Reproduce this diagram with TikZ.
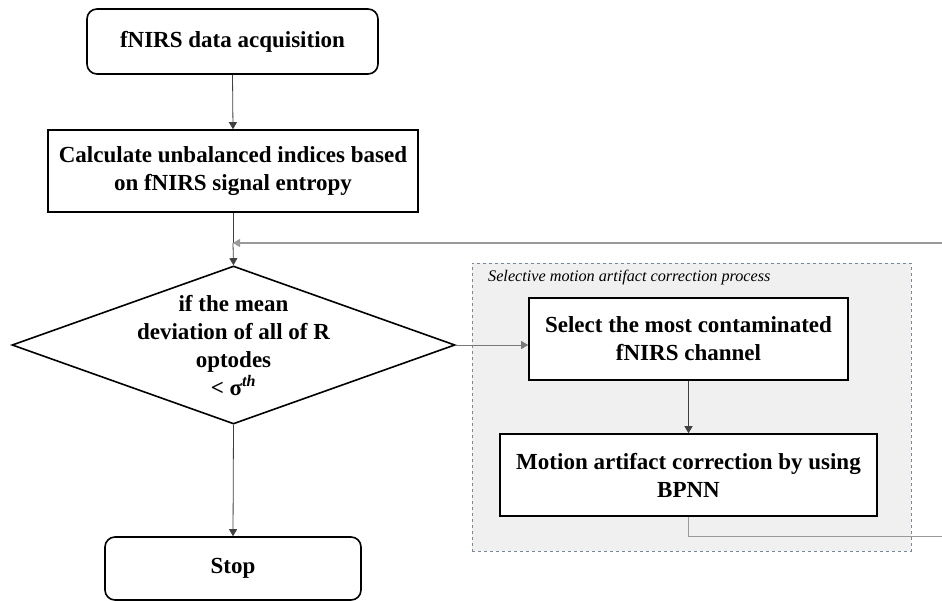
\documentclass[tikz,border=0pt]{standalone}
\usepackage{fontspec}
\setmainfont{Liberation Serif}
\usetikzlibrary{shapes.geometric,arrows.meta}
\definecolor{groupfill}{HTML}{F0F0F0}
\definecolor{groupedge}{HTML}{7A8898}
\definecolor{linkgray}{HTML}{9A9A9A}
\definecolor{conn}{HTML}{404040}
\tikzset{
  stepbox/.style={draw, line width=1.6pt, fill=white, align=center, inner sep=0pt,
    font=\bfseries\fontsize{23}{28}\selectfont},
  termbox/.style={stepbox, rounded corners=10pt},
  decbox/.style={draw, line width=1.6pt, shape=diamond, inner sep=0pt},
  dectext/.style={align=center, inner sep=0pt, font=\bfseries\fontsize{23}{28}\selectfont},
  groupbox/.style={draw=groupedge, dashed, line width=0.8pt, fill=groupfill, inner sep=0pt},
  grouplabel/.style={anchor=west, inner sep=0pt, font=\itshape\fontsize{16.2}{19}\selectfont},
  link/.style={draw=conn, line width=0.8pt, -{Triangle[length=7pt,width=8pt]}},
  loopline/.style={draw=linkgray, line width=1.4pt},
  plainline/.style={draw=linkgray, line width=0.9pt},
}
\begin{document}
\begin{tikzpicture}[x=1pt,y=-1pt]
\useasboundingbox (0,0) rectangle (942,601);
% group background
\node[groupbox, minimum width=439pt, minimum height=288pt] (grp) at (691.5,407) {};
\node[grouplabel] (glabel) at (488,278) {Selective motion artifact correction process};
% main flow
\node[termbox, minimum width=291pt, minimum height=65pt] (acq) at (232.5,41.5) {fNIRS data acquisition};
\node[stepbox, minimum width=370pt, minimum height=82pt] (calc) at (233,171) {Calculate unbalanced indices based\\on fNIRS signal entropy};
\node[decbox, minimum width=443pt, minimum height=158pt] (dec) at (233.5,345) {};
\node[dectext] (dect) at (233.5,346) {if the mean\\deviation of all of R\\optodes\\< σ\textsuperscript{\itshape th}};
\node[termbox, minimum width=256pt, minimum height=63pt] (stop) at (233,568.5) {Stop};
\node[stepbox, minimum width=319pt, minimum height=82pt] (sel) at (688.5,339) {Select the most contaminated\\fNIRS channel};
\node[stepbox, minimum width=377pt, minimum height=82pt] (mac) at (688.5,475) {Motion artifact correction by using\\BPNN};
% coordinates
\coordinate (merge) at (233,243);
\coordinate (loopin) at (942,243);
\coordinate (bend) at (688.5,536);
\coordinate (loopout) at (942,536);
% connectors
\draw[link] (acq.south) -- (calc.north);
\draw[draw=conn, line width=0.8pt] (calc.south) -- (merge);
\draw[link] (merge) -- (dec.north);
\draw[loopline, -{Triangle[length=7pt,width=8pt]}] (loopin) -- (merge);
\draw[link] (dec.south) -- (stop.north);
\draw[plainline, -{Triangle[length=7pt,width=8pt]}, draw=conn!70] (dec.east) -- (dec.east -| sel.west);
\draw[link] (sel.south) -- (mac.north);
\draw[plainline] (mac.south) -- (bend) -- (loopout);
\end{tikzpicture}
\end{document}
